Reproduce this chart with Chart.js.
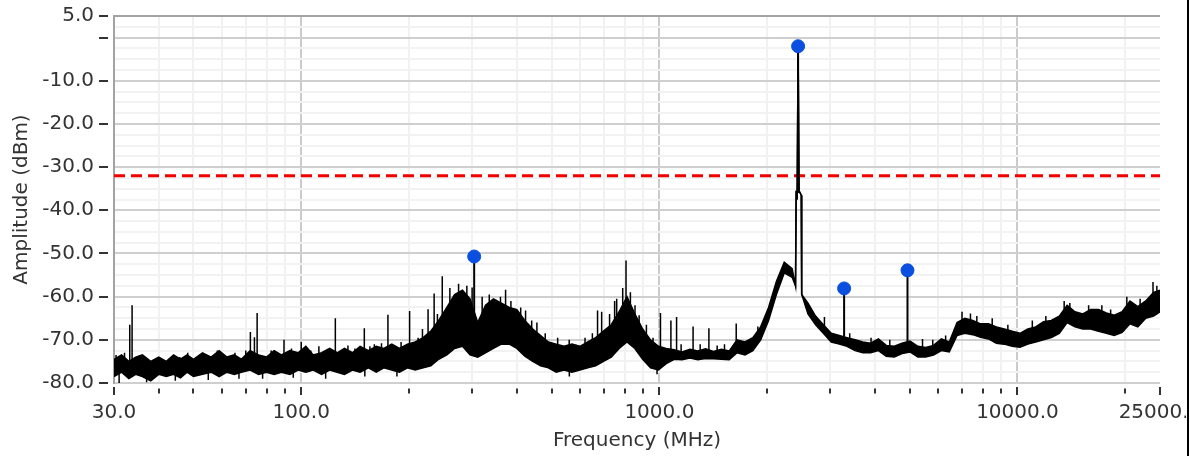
<!DOCTYPE html>
<html>
<head>
<meta charset="utf-8">
<script src="https://cdn.jsdelivr.net/npm/chart.js@4/dist/chart.umd.min.js"></script>
<style>
  body { margin: 0; background: #fff; }
  #wrap { width: 1190px; height: 456px; }
</style>
</head>
<body>
<div id="wrap"><canvas id="spectrum-chart" width="1190" height="456"></canvas></div>
<script>
// trace band: frequency points with upper and lower edge of the noisy trace (dBm)
const freqMHz = [
  30, 31.5, 33, 34.5, 36, 38, 40, 42, 44, 46, 48, 50, 53, 56, 59, 62, 65, 68, 72, 76, 80, 84, 88, 93, 98,
  103, 108, 114, 120, 126, 132, 139, 146, 154, 162, 170, 179, 188, 198,
  208, 219, 230, 242, 255, 268, 282, 296, 311, 327, 344, 362, 381, 400, 421, 443, 466, 490, 515, 542, 570, 600, 631, 664, 698, 734, 772, 812, 854, 898, 945, 994,
  1045, 1100, 1157, 1217, 1280, 1346, 1416, 1490, 1567,
  1648, 1734, 1824, 1918, 2018, 2122, 2232, 2348,
  2400, 2410, 2425, 2440, 2455, 2490, 2497,
  2600, 2730, 2870, 3020, 3180, 3340, 3520, 3700, 3890, 4090, 4300, 4530, 4760, 5010, 5270, 5540, 5830, 6130, 6450,
  6780, 7130, 7500, 7890, 8300, 8730, 9180, 9660, 10160, 10690, 11240, 11820, 12430, 13080, 13760, 14470, 15220, 16010, 16840, 17710, 18630, 19600, 20610, 21680, 22810, 23990, 25000
];
const upperDb = [
  -74.5, -73.5, -75, -74, -73.5, -75, -74, -75, -73.5, -74.5, -73.5, -74.5, -73, -74, -72.5, -74, -73.5, -74.5, -72.5, -73.5, -74, -72.5, -73.5, -72.5, -73,
  -71.5, -73.5, -73, -72, -73, -72, -73, -71.5, -72.5, -71.5, -72, -71, -72, -71,
  -70.5, -69.5, -68, -65.5, -62.5, -59.5, -58.5, -60.5, -66, -62, -60.5, -61.5, -62.5, -63, -65.5, -67.5, -69, -70.5, -71, -71.5, -71, -71.5, -70.5, -69.5, -68, -66.5, -63.5, -60, -64, -67.5, -70, -71.5,
  -72, -72.3, -72.8, -72.2, -72.6, -72.1, -72.7, -72.2, -72.6,
  -70, -70.5, -69.5, -67, -62.5, -56.5, -52, -53.5,
  -57.5, -35.5, -37.5, -2, -35.5, -36.5, -59.5,
  -61.5, -64.5, -66.5, -68.5, -69, -69.5, -70, -70.5, -70.8, -69.8, -71.3, -71.5, -70.8, -70.3, -71.5, -71.8, -71.3, -69.8, -70.5,
  -66, -65, -65.5, -66.3, -66.3, -67, -67.5, -68, -68.5, -67.5, -67, -65.8, -65.5, -64.5, -62, -63.5, -64, -63, -63, -63.8, -64.3, -63.5, -61, -62.3, -61, -59, -58.5
];
const lowerDb = [
  -78.5, -77.5, -79, -78, -78.5, -79.5, -78, -78.5, -78, -78.8, -77.5, -78.5, -78, -77.5, -78.5, -77.5, -78, -77.5, -77, -78, -77.5, -78, -77.5, -78, -77,
  -77.5, -77, -78, -77, -77.5, -78, -77, -77.5, -76.5, -77.5, -76.5, -77, -77.5, -76.5,
  -77, -76.5, -76, -74.5, -73.5, -72, -71.5, -73.5, -74, -73, -72, -71, -71, -72, -73.8, -75, -76, -76.5, -77.5, -77, -77.5, -77, -76.5, -76, -75, -74, -72, -70.5, -72, -74.5, -76.5, -77,
  -75.5, -74.5, -74.6, -74.2, -74.6, -74.3, -74.4, -74.5, -74.6,
  -73, -73.5, -72.5, -70, -65.5, -59.5, -54.5, -55.5,
  -57.5, -35.5, -37.5, -2, -35.5, -36.5, -59.5,
  -64, -66.5, -68.5, -70.5, -71, -71.5, -72.5, -73, -73, -72.5, -73.8, -74, -73.2, -72.8, -74, -74, -73.5, -72.5, -72.8,
  -69, -68.5, -68.8, -69.4, -69.8, -70.8, -71, -71.5, -71.7, -71, -70.5, -70, -69.5, -68.5, -66, -67, -67.5, -67.5, -68, -68.5, -69, -68.3, -66.3, -67, -65, -64.5, -63.5
];

// narrow spurs sticking out of the trace (tall ones first, then the small noise spurs)
const spikeFreq = [
  33.2, 33.7, 72.1, 74.0, 75.3, 89.5, 100, 124.5, 135, 150, 167.5, 174.6, 200.7, 226, 235, 247.6, 300, 349.6, 372, 396,
  423, 440, 672, 690, 726, 750, 807, 855, 878, 1007, 1077, 1117, 1242, 1375, 1639, 1884, 2890, 5430, 7390, 23900,
  30.4, 32.1, 35.7, 38.9, 45.8, 48.2, 52.2, 58.3, 65.3, 70, 82.4, 93.9, 106.3, 112, 118.8, 141.2, 155.5, 160, 179.7, 190,
  212, 218, 240, 260, 275, 290, 320, 335, 360, 385, 410, 455, 480, 520, 560, 620, 650, 760, 790, 830,
  920, 960, 1150, 1300, 1450, 1520, 3400, 3900, 4400, 5800, 6300, 7000, 7700, 8500, 9400, 11000, 12000, 13500, 14000, 15800,
  17200, 18200, 20200, 22000, 24500,
  31, 37, 44.5, 55, 67, 78, 95, 117, 150.5, 185, 560.5, 985
];
const spikeTop = [
  -66.5, -62, -68.2, -69.4, -63.8, -70, -70.5, -65, -71.3, -67.3, -70.8, -64.2, -63.3, -62.9, -59.3, -55.3, -57.9, -60.7, -58.4, -62.8,
  -63.2, -65.5, -63.2, -63.5, -64, -61, -51.6, -62, -64.3, -63.8, -65.5, -64.7, -66.9, -67.3, -66.2, -66.9, -64.7, -69.8, -63.9, -56.6,
  -73.5, -73, -74, -74.5, -74, -73, -73.5, -72.5, -73, -72.5, -72.5, -72, -72.5, -71.5, -73, -72, -71.5, -71, -71, -70.5,
  -69.5, -67.5, -64, -58, -57, -57.5, -60, -59.5, -60, -61, -62.5, -66, -68.5, -69.5, -70, -69.5, -68.5, -60.5, -58, -59,
  -66.5, -69.5, -71, -71, -71.3, -71, -68.5, -69.5, -70, -70, -69, -63.5, -64.5, -65, -66.5, -65.5, -64.5, -61, -61.5, -62,
  -62, -63, -60, -60.5, -57.5,
  -76, -76, -76, -76, -76, -76, -75.5, -75.5, -75, -75, -74, -75
];
const spikeBase = [
  -75, -75, -75, -75, -75, -75, -75, -74, -74, -74, -74, -74, -74, -72, -72, -70, -68, -68, -68, -68,
  -70, -72, -73, -73, -72, -70, -66, -68, -70, -74, -73.5, -73.5, -73.5, -73.5, -72, -70, -68, -73, -67, -62,
  -76, -76, -76, -77, -76, -76, -76, -76, -76, -76, -75.5, -75.5, -75.5, -75.5, -75.5, -75, -75, -75, -74.5, -74.5,
  -73, -73, -70, -66, -65, -66, -67, -66, -66, -67, -68, -71, -73, -74, -74, -74, -73, -68, -66, -67,
  -72, -74, -73.5, -73.5, -73.5, -73.5, -71, -72, -72.5, -72.5, -71.5, -67, -67.5, -68.5, -69.5, -69, -68, -65, -65.5, -66,
  -66.5, -67, -64, -64, -62,
  -80, -79.8, -79.5, -79.3, -79, -79, -78.8, -79, -78.5, -78.5, -78.5, -78
];

// peak markers
const markerFreq = [304, 2440, 3280, 4930];
const markerDb = [-50.7, -2.0, -58.1, -53.9];
const markerBase = [-68, -36, -70, -70.5];

const limitDb = -32;

// axis ticks
const xTicks = [30, 40, 50, 60, 70, 80, 90, 100, 200, 300, 400, 500, 600, 700, 800, 900,
  1000, 2000, 3000, 4000, 5000, 6000, 7000, 8000, 9000, 10000, 20000, 25000];
const xTickLabels = { 30: '30.0', 100: '100.0', 1000: '1000.0', 10000: '10000.0', 25000: '25000.0' };
const xMajorGrid = [100, 1000, 10000];
const yTickValues = [5, 0, -10, -20, -30, -40, -50, -60, -70, -80];
const yTickLabels = ['5.0', '', '-10.0', '-20.0', '-30.0', '-40.0', '-50.0', '-60.0', '-70.0', '-80.0'];

document.addEventListener('DOMContentLoaded', function() {
  const pts = (xs, ys) => xs.map((x, i) => ({ x: x, y: ys[i] }));
  const sticks = (xs, bases, tops) => {
    const out = [];
    xs.forEach((x, i) => {
      out.push({ x: x, y: bases[i] }, { x: x, y: tops[i] }, { x: x, y: null });
    });
    return out;
  };

  const decor = {
    id: 'decor',
    afterDraw(chart) {
      const ctx = chart.ctx;
      const xs = chart.scales.x;
      const ys = chart.scales.y;
      const area = chart.chartArea;
      ctx.save();
      ctx.strokeStyle = '#333';
      ctx.lineWidth = 2;
      xTicks.forEach(v => {
        const px = Math.round(xs.getPixelForValue(v));
        const big = xTickLabels[v] !== undefined;
        ctx.beginPath();
        ctx.moveTo(px, area.bottom + (big ? 4 : 5.5));
        ctx.lineTo(px, area.bottom + (big ? 12 : 10.5));
        ctx.stroke();
      });
      yTickValues.forEach(v => {
        const py = Math.round(ys.getPixelForValue(v));
        ctx.beginPath();
        ctx.moveTo(area.left - 15, py);
        ctx.lineTo(area.left - 6, py);
        ctx.stroke();
      });
      // window frame on the right clips the last label
      ctx.fillStyle = '#fff';
      ctx.fillRect(1186, 0, 4, chart.height);
      ctx.fillStyle = '#000';
      ctx.fillRect(1187, 0, 2, chart.height);
      ctx.restore();
    }
  };

  const font = { family: 'DejaVu Sans', size: 20 };
  const ctx = document.getElementById('spectrum-chart').getContext('2d');
  new Chart(ctx, {
    type: 'line',
    data: {
      datasets: [
        {
          label: 'markers',
          type: 'scatter',
          data: pts(markerFreq, markerDb),
          pointRadius: 6.5,
          pointBackgroundColor: '#0a4fe0',
          pointBorderColor: '#0a4fe0',
          showLine: false
        },
        {
          label: 'stems',
          data: sticks(markerFreq, markerBase, markerDb),
          borderColor: '#000',
          borderWidth: 2,
          pointRadius: 0,
          spanGaps: false
        },
        {
          label: 'spurs',
          data: sticks(spikeFreq, spikeBase, spikeTop),
          borderColor: '#000',
          borderWidth: 1.5,
          pointRadius: 0,
          spanGaps: false
        },
        {
          label: 'upper',
          data: pts(freqMHz, upperDb),
          borderColor: '#000',
          borderWidth: 1.5,
          backgroundColor: '#000',
          pointRadius: 0,
          tension: 0,
          fill: '+1'
        },
        {
          label: 'lower',
          data: pts(freqMHz, lowerDb),
          borderColor: '#000',
          borderWidth: 1.5,
          pointRadius: 0,
          tension: 0,
          fill: false
        },
        {
          label: 'limit',
          data: [{ x: 30, y: limitDb }, { x: 25000, y: limitDb }],
          borderColor: '#f20000',
          borderWidth: 3,
          borderDash: [11, 6],
          pointRadius: 0
        }
      ]
    },
    options: {
      responsive: false,
      animation: false,
      events: [],
      layout: { padding: { top: 16, right: 30, bottom: 0, left: 0 } },
      plugins: { legend: { display: false }, tooltip: { enabled: false } },
      scales: {
        x: {
          type: 'logarithmic',
          min: 30,
          max: 25000,
          afterBuildTicks: scale => { scale.ticks = xTicks.map(v => ({ value: v })); },
          afterFit: scale => { scale.height = 73; scale.paddingLeft = 0; scale.paddingRight = 0; },
          border: { display: false },
          grid: {
            drawTicks: false,
            lineWidth: 2,
            color: c => {
              const v = c.tick ? c.tick.value : 0;
              if (v === 30 || v === 25000) return 'rgba(0,0,0,0)';
              return xMajorGrid.includes(v) ? '#cbcbcb' : '#f1f1f1';
            }
          },
          ticks: {
            autoSkip: false,
            maxRotation: 0,
            minRotation: 0,
            padding: 18,
            color: '#333',
            font: font,
            callback: v => xTickLabels[v] !== undefined ? xTickLabels[v] : ''
          },
          title: { display: true, text: 'Frequency (MHz)', color: '#333', font: font, padding: { top: 0, bottom: 3 } }
        },
        y: {
          min: -80,
          max: 5,
          afterBuildTicks: scale => {
            const t = [];
            for (let v = 5; v >= -80; v -= 2.5) t.push({ value: v });
            scale.ticks = t;
          },
          afterFit: scale => { scale.width = 114; scale.paddingTop = 0; scale.paddingBottom = 0; },
          border: { display: true, color: '#a3a3a3', width: 2 },
          grid: {
            drawTicks: false,
            lineWidth: 2,
            color: c => {
              const v = c.tick ? c.tick.value : 0;
              if (v === 5) return '#a3a3a3';
              return v % 10 === 0 ? '#cfcfcf' : '#f2f2f2';
            }
          },
          ticks: {
            autoSkip: false,
            padding: 20,
            color: '#333',
            font: font,
            callback: v => {
              const i = yTickValues.indexOf(v);
              return i >= 0 ? yTickLabels[i] : '';
            }
          },
          title: { display: true, text: 'Amplitude (dBm)', color: '#333', font: font, padding: { top: 10, bottom: 0 } }
        }
      }
    },
    plugins: [decor]
  });
});
</script>
</body>
</html>
